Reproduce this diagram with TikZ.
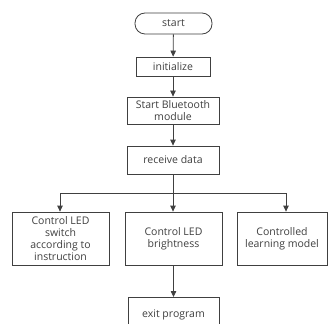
\documentclass[tikz,border=0pt]{standalone}
\usepackage{fontspec}
\setmainfont{Open Sans}
\usetikzlibrary{arrows.meta}
\definecolor{linec}{HTML}{404040}
\definecolor{textc}{HTML}{404040}
\begin{document}
\begin{tikzpicture}[x=1pt,y=-1pt,
  box/.style={draw=linec, line width=0.8pt, fill=white, text=textc,
    font=\fontsize{10.5}{11.8}\selectfont, align=center, inner sep=0pt},
  flow/.style={draw=linec, line width=0.8pt, -{Triangle[length=6pt,width=5.5pt]}},
  link/.style={draw=linec, line width=0.8pt}]
\useasboundingbox (0,0) rectangle (328,323);
\fill[white] (0,0) rectangle (328,323);
\node[box, rounded corners=10pt, minimum width=77pt, minimum height=21pt] (start) at (173.5,23.5) {start};
\node[box, minimum width=74pt, minimum height=19pt] (init) at (173,66.5) {initialize};
\node[box, minimum width=92pt, minimum height=27pt] (bt) at (173,110.5) {Start Bluetooth\\module};
\node[box, minimum width=92pt, minimum height=28pt] (recv) at (173,160) {receive data};
\node[box, minimum width=97pt, minimum height=53pt] (sw) at (60.5,238.5) {Control LED\\switch\\according to\\instruction};
\node[box, minimum width=97pt, minimum height=53pt] (bright) at (173.5,238.5) {Control LED\\brightness};
\node[box, minimum width=90pt, minimum height=53pt] (learn) at (282,238.5) {Controlled\\learning model};
\node[box, minimum width=91pt, minimum height=30pt, anchor=north, text depth=0pt] (exit) at (173.5,297) {\raisebox{-3pt}{exit program}};
\coordinate (fork) at (173,193);
\coordinate (forkL) at (60,193);
\coordinate (forkR) at (286,193);
\draw[flow] (start) -- (init);
\draw[flow] (init) -- (bt);
\draw[flow] (bt) -- (recv);
\draw[flow] (recv.south) -- (recv.south |- bright.north);
\draw[link] (forkL) -- (forkR);
\draw[flow] (forkL) -- (forkL |- sw.north);
\draw[flow] (forkR) -- (forkR |- learn.north);
\draw[flow] (bright) -- (exit);
\end{tikzpicture}
\end{document}
